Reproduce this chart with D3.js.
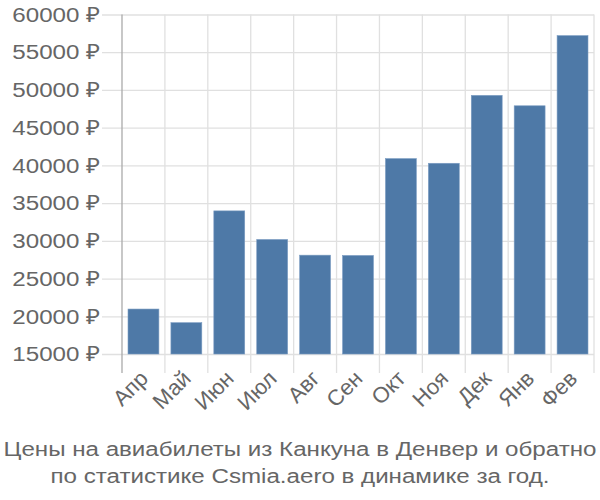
<!DOCTYPE html>
<html>
<head>
<meta charset="utf-8">
<script src="https://cdn.jsdelivr.net/npm/d3@7"></script>
<style>
body { margin: 0; background: #fff; }
text { font-family: "Liberation Sans", Arial, sans-serif; fill: #666; }
</style>
</head>
<body>
<svg id="chart" width="600" height="500"></svg>
<script>
const months = ["Апр", "Май", "Июн", "Июл", "Авг", "Сен", "Окт", "Ноя", "Дек", "Янв", "Фев"];
const prices = [20960, 19150, 33970, 30180, 28100, 28060, 40900, 40280, 49280, 47900, 57200];
const yTicks = [15000, 20000, 25000, 30000, 35000, 40000, 45000, 50000, 55000, 60000];
const titleLines = ["Цены на авиабилеты из Канкуна в Денвер и обратно", "по статистике Csmia.aero в динамике за год."];

(function () {
const svg = d3.select("#chart");
const pL = 122, pR = 594, pT = 14.5, pB = 354;
const fs = 21, sx = 1.15;

const x = d3.scaleBand().domain(months).range([pL, pR]).paddingInner(0.28).paddingOuter(0.14);
const y = d3.scaleLinear().domain([15000, 60000]).range([pB, pT]);

// horizontal grid + y ticks
const yAxis = d3.axisLeft(y).tickValues(yTicks).tickSize(20).tickPadding(2)
  .tickFormat(d => d + " ₽");
const gy = svg.append("g").attr("transform", `translate(${pL},0)`).call(yAxis);
gy.select(".domain").remove();
gy.selectAll(".tick line").attr("x2", pR - pL).attr("x1", -20).attr("stroke", "#e0e0e0").attr("stroke-width", 1.3);
gy.selectAll(".tick text").attr("font-size", fs).attr("fill", "#666")
  .attr("x", 0).attr("transform", `translate(-22,0) scale(${sx},1)`);

// vertical grid at band boundaries
const step = x.step();
const bounds = months.map((m, i) => pL + i * step).concat([pR]);
svg.append("g").selectAll("line").data(bounds).enter().append("line")
  .attr("x1", d => d).attr("x2", d => d)
  .attr("y1", pT).attr("y2", pB + 19)
  .attr("stroke", (d, i) => i === 0 ? "#aaa" : "#e0e0e0").attr("stroke-width", 1.3);

// bars
svg.append("g").selectAll("rect").data(months).enter().append("rect")
  .attr("x", d => x(d))
  .attr("width", x.bandwidth())
  .attr("y", (d, i) => y(prices[i]))
  .attr("height", (d, i) => y(15000) - y(prices[i]))
  .attr("fill", "#4e79a7")
  .attr("stroke", "#7b9cc2").attr("stroke-width", 0.6);

// x labels
const xAxis = d3.axisBottom(x).tickSize(0).tickPadding(0);
const gx = svg.append("g").attr("transform", `translate(0,${pB})`).call(xAxis);
gx.select(".domain").remove();
gx.selectAll(".tick text")
  .attr("font-size", 22).attr("fill", "#666")
  .attr("text-anchor", "end")
  .attr("y", 0)
  .attr("transform", `translate(-5,15) rotate(-45)`)
  .attr("dy", "0.7em");

// title
svg.append("g").selectAll("text").data(titleLines).enter().append("text")
  .attr("transform", (d, i) => `translate(300,${456 + i * 27}) scale(${sx},1)`)
  .attr("text-anchor", "middle")
  .attr("font-size", fs)
  .attr("fill", "#666")
  .text(d => d);
})();
</script>
</body>
</html>
